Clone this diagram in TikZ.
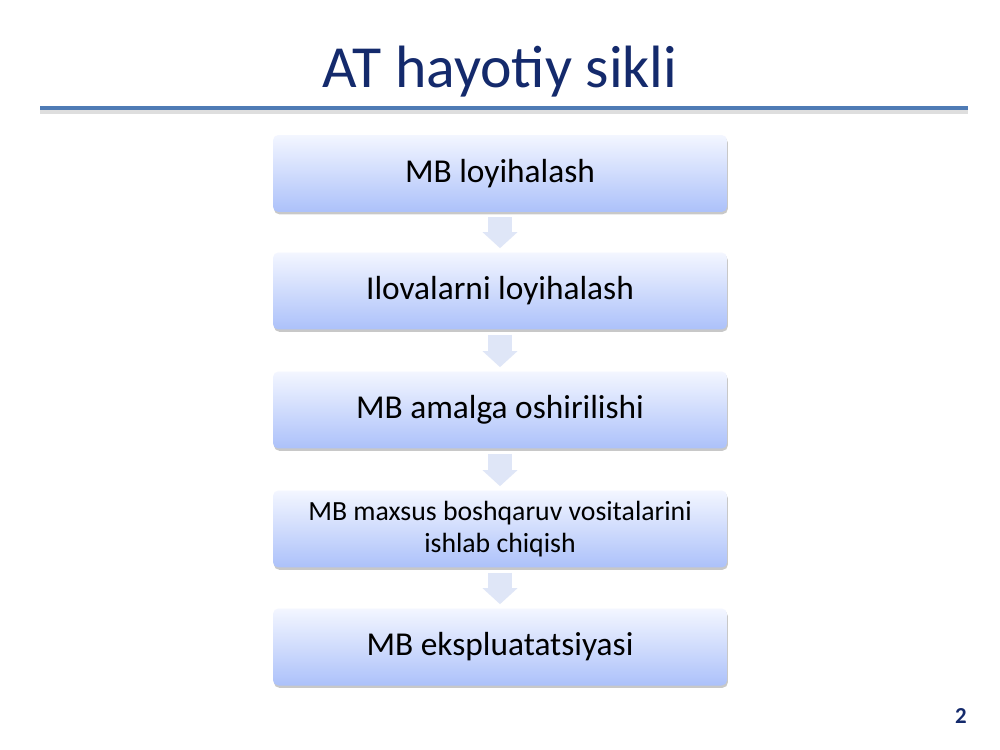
\documentclass[tikz,border=0pt]{standalone}
\usepackage{fontspec}
\setmainfont{Carlito}
\usetikzlibrary{arrows.meta}
\usetikzlibrary{shadows}
\definecolor{titleblue}{RGB}{20,42,108}
\definecolor{rulecol}{RGB}{79,123,181}
\definecolor{boxtop}{RGB}{243,246,255}
\definecolor{boxbot}{RGB}{172,193,250}
\definecolor{arrowcol}{RGB}{223,230,247}

\begin{document}
\begin{tikzpicture}[x=0.02cm,y=-0.02cm,
    stage/.style={rounded corners=3pt,top color=boxtop,bottom color=boxbot,
      minimum width=9.08cm,minimum height=1.54cm,align=center,
      font=\fontsize{19}{22}\selectfont,
      drop shadow={shadow xshift=0.5pt,shadow yshift=-1.3pt,opacity=0.3,fill=black!70}},
    flow/.style={draw=arrowcol,line width=0.48cm,shorten <=0.1cm,shorten >=0.08cm,
      -{Triangle[length=0.32cm,width=0.68cm]}}]
      \useasboundingbox[fill=white] (0,0) rectangle (1000,750);
      % title and rule
      \node[anchor=base,text=titleblue,font=\fontsize{34}{40}\selectfont] (title) at (500,88) {AT hayotiy sikli};
      \coordinate (ruleL) at (40,108);
      \coordinate (ruleR) at (968,108);
      \draw[line width=3.5pt,black!25,opacity=0.5] ([yshift=-1.5pt]ruleL) -- ([yshift=-1.5pt]ruleR);
      \draw[line width=2.3pt,rulecol] (ruleL) -- (ruleR);
      % stages
      \node[stage] (b1) at (500,173.5) {MB loyihalash};
      \node[stage] (b2) at (500,291) {Ilovalarni loyihalash};
      \node[stage] (b3) at (500,410) {MB amalga oshirilishi};
      \node[stage,font=\fontsize{15.8}{18.4}\selectfont] (b4) at (500,529) {MB maxsus boshqaruv vositalarini\\ishlab chiqish};
      \node[stage] (b5) at (500,647) {MB ekspluatatsiyasi};
      \foreach \a/\b in {b1/b2,b2/b3,b3/b4,b4/b5} {
        \draw[flow] (\a) -- (\b);
      }
      \node[anchor=base,text=titleblue,font=\bfseries\fontsize{13}{15}\selectfont] (page) at (961,723) {2};
    \end{tikzpicture}
\end{document}
